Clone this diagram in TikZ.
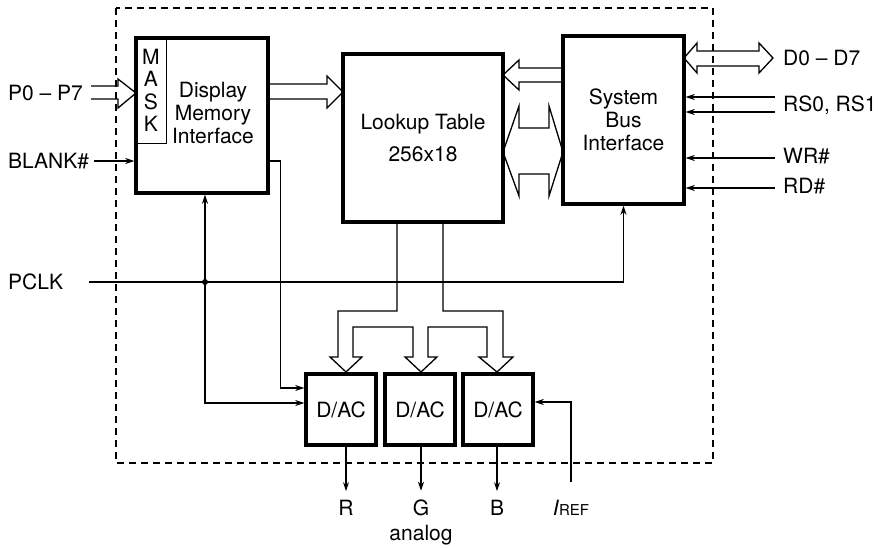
\documentclass[tikz,border=0pt]{standalone}
\usepackage{fontspec}
\setmainfont{TeX Gyre Heros}
\usetikzlibrary{positioning,arrows.meta}

\begin{document}
\begin{tikzpicture}[x=1pt,y=-1pt,>={Stealth[length=9pt,width=6pt]},
  font=\fontsize{21}{23}\selectfont,
  blk/.style={draw,line width=3.4pt,inner sep=0pt,align=center},
  sig/.style={line width=1.3pt},
  bus/.style={line width=1.3pt,line join=miter},
  lbl/.style={inner sep=0pt,anchor=west}]
\useasboundingbox (0,0) rectangle (885,548);
\draw[line width=1.2pt,dash pattern=on 7pt off 5pt] (116,8) rectangle (713,463);

% blocks
\node[blk,minimum width=132pt,minimum height=155pt] (dmi) at (202,115.5) {};
\node[draw,line width=1.1pt,inner sep=0pt,anchor=north west,minimum width=32pt,minimum height=107pt,
  align=center,font=\fontsize{21}{22.3}\selectfont] (mask) at (dmi.north west) {M\\A\\S\\K};
\node[align=center,inner sep=0pt] (dmitxt) at (213,113) {Display\\Memory\\Interface};
\node[blk,minimum width=160pt,minimum height=168pt] (lut) at (423,138) {Lookup Table\\[9pt]256x18};
\node[blk,minimum width=121pt,minimum height=168pt] (sbi) at (623.5,120) {System\\Bus\\Interface};
\foreach \n/\x in {r/341,g/420,b/498}
  \node[blk,minimum width=70pt,minimum height=71pt] (dac\n) at (\x,409.5) {D/AC};

% labels
\node[lbl] (p07) at (8,93) {P0 -- P7};
\node[lbl] (blank) at (8,161) {BLANK\#};
\node[lbl] (pclk) at (8,282) {PCLK};
\node[lbl] (d07) at (783,58) {D0 -- D7};
\node[lbl] (rs) at (783,105) {RS0, RS1};
\node[lbl] (wr) at (783,156) {WR\#};
\node[lbl] (rd) at (783,186) {RD\#};
\node[inner sep=0pt] (outr) at (346,508) {R};
\node[inner sep=0pt] (outg) at (421,508) {G};
\node[inner sep=0pt] (outb) at (497,508) {B};
\node[inner sep=0pt] (analog) at (421,535) {analog};
\node[inner sep=0pt] (iref) at (571,508) {\textit{I}{\fontsize{15}{15}\selectfont REF}};

% wide buses
\draw[bus] (91,86) -- (118,86) -- (118,79) -- (136,93) -- (118,108) -- (118,99) -- (91,99);
\draw[bus] (269,84) -- (327,84) -- (327,76) -- (343,92) -- (327,108) -- (327,99) -- (269,99);
\draw[bus] (563,68) -- (519,68) -- (519,60) -- (503,75) -- (519,90) -- (519,82) -- (563,82);
\draw[bus] (503,152) -- (519,106) -- (519,128) -- (549,128) -- (549,106) -- (563,152)
  -- (549,196) -- (549,174) -- (519,174) -- (519,196) -- cycle;
\draw[bus] (684,58) -- (697,43) -- (697,51) -- (759,51) -- (759,43) -- (773,58)
  -- (759,73) -- (759,66) -- (697,66) -- (697,73) -- cycle;
\draw[bus] ([xshift=-26pt]lut.south) -- (397,311) -- (338,311) -- (338,357) -- (330,357) -- (346,372)
  -- (362,357) -- (353,357) -- (353,327) -- (413,327) -- (413,357) -- (405,357) -- (421,372)
  -- (437,357) -- (428,357) -- (428,327) -- (487,327) -- (487,357) -- (479,357) -- (497,372)
  -- (513,357) -- (503,357) -- (503,311) -- (443,311) -- ([xshift=20pt]lut.south);

% single lines
\draw[sig,->] ([xshift=5pt]blank.east) -- (blank -| dmi.west);
\foreach \dy in {23,8,-38,-68}
  \draw[sig,<-] ([yshift=\dy pt]sbi.east) -- ++(89,0);
\coordinate (jn) at (205,282);
\draw[sig] ([xshift=26pt]pclk.east) -- (jn);
\draw[sig,->] (jn) -| (sbi.south);
\draw[sig,->] (jn) -- (jn |- dmi.south);
\draw[sig,->] (jn) |- ([yshift=6.5pt]dacr.west);
\fill (jn) circle (3pt);
\draw[sig,->] ([yshift=-45.5pt]dmi.east) -- ++(11,0) |- ([yshift=21.5pt]dacr.west);
\draw[sig,->] ([yshift=18pt]iref.north) |- ([yshift=7.5pt]dacb.east);
\foreach \n in {r,g,b}
  \draw[sig,->] (out\n |- dac\n.south) -- ([yshift=9pt]out\n.north);
\end{tikzpicture}
\end{document}
